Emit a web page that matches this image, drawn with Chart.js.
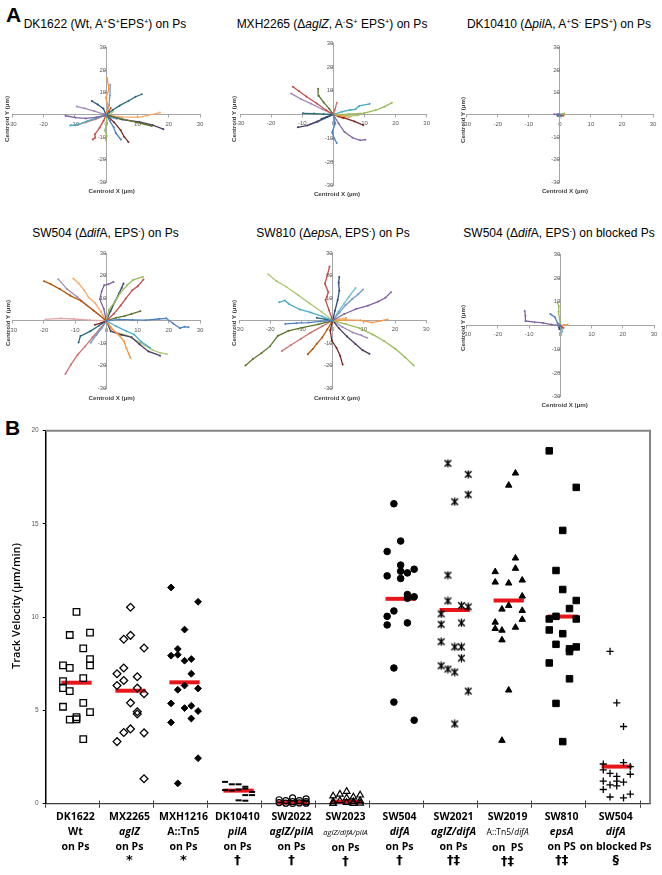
<!DOCTYPE html>
<html>
<head>
<meta charset="utf-8">
<script src="https://cdn.jsdelivr.net/npm/chart.js@4.4.1/dist/chart.umd.min.js"></script>
<style>
  html, body { margin: 0; padding: 0; background: #fff; overflow: hidden; }
  #fig { position: relative; width: 662px; height: 875px; overflow: hidden;
         font-family: "Liberation Sans", Arial, sans-serif; color: #000; }
  #fig canvas { position: absolute; }
  .txt { position: absolute; white-space: nowrap; transform: translate(-50%, -50%); }
  .panel { position: absolute; font-weight: bold; font-size: 21px; line-height: 21px; }
  .ttl { font-size: 12px; line-height: 14px; }
  .ttl sup { font-size: 7.5px; vertical-align: 4px; line-height: 0; }
  .axt { font-weight: bold; font-size: 6.2px; line-height: 7px; color: #404040; }
  .ytl { font-family: "Open Sans", sans-serif; font-weight: 600; font-size: 11px; line-height: 13px; }
  .cat { position: absolute; transform: translateX(-50%); text-align: center; white-space: nowrap;
         font-family: "Open Sans", sans-serif; font-weight: bold; font-size: 10.5px; line-height: 14.7px; }
  .cat .sm { font-size: 7.5px; font-weight: normal; }
  .cat .md { font-size: 8.5px; font-weight: normal; }
  .cat .mk { font-size: 13px; font-family: "DejaVu Sans", sans-serif; font-weight: bold; }
</style>
</head>
<body>
<div id="fig">
  <div class="panel" style="left:6px;top:4px;">A</div>
  <div class="panel" style="left:5px;top:417px;">B</div>
  <canvas id="a1"></canvas><canvas id="a2"></canvas><canvas id="a3"></canvas>
  <canvas id="a4"></canvas><canvas id="a5"></canvas><canvas id="a6"></canvas>
  <canvas id="b"></canvas>
</div>
<script>
// ---------------------------------------------------------------------------
// Panel A: cell tracks (centroid X, Y in µm), one list of [x, y] per track
// ---------------------------------------------------------------------------
const dk1622Tracks = [
  [[0, 0], [1.2, -2.8], [2.4, -5.5], [3.1, -8.2], [4.7, -11]],
  [[0, 0], [-0.8, -2.6], [-2.1, -5.8], [-3.6, -8.7], [-3.5, -10.2], [-4.3, -11]],
  [[0, 0], [0.3, -3.5], [-0.4, -6.9], [0.2, -9.4], [-0.1, -11.3]],
  [[0, 0], [-3.2, -1.1], [-6.5, -1.6], [-9.8, -1.2], [-13, -0.4]],
  [[0, 0], [-2.6, -1.2], [-5.9, -2.7], [-8.7, -4.2], [-11.5, -4.8]],
  [[0, 0], [0.6, 3.8], [-0.1, 7.6], [0.9, 11.5], [0.3, 16.5]],
  [[0, 0], [-0.9, 2.8], [-2.7, 4.6], [-4.6, 6.2]],
  [[0, 0], [2.6, -3.4], [4.6, -6.8], [5.8, -9.9], [7.1, -12.1]],
  [[0, 0], [4.4, -1.6], [9.8, -3.4], [12.3, -4.2], [14.6, -5]],
  [[0, 0], [5.2, -2.1], [10.6, -3.2], [14.9, -4.6], [18.3, -6.4]],
  [[0, 0], [2.1, 2.2], [4.3, 4.1], [7.2, 6.3], [9.4, 8.1], [11.4, 9.2]],
  [[0, 0], [0.8, 1.6], [1.5, 3.1]],
  [[0, 0], [0.9, 4.2], [1.2, 8.8], [1.3, 13.4]],
  [[0, 0], [-3.3, -1.9], [-6.6, -3.4], [-9.8, -4.6]],
  [[0, 0], [1.4, 0.6], [2.2, 1.5]],
  [[0, 0], [-3.8, 1.7], [-6.9, 2.9], [-9.4, 3.7]],
  [[0, 0], [1.6, -1.3], [3.4, -1.9]],
  [[0, 0], [5.1, -0.9], [10.2, -1.1], [13.4, -0.2], [17.2, 1]],
];

const mxh2265Tracks = [
  [[0, 0], [0.6, -3.8], [-0.4, -7.6], [0.3, -10.1], [1.1, -12]],
  [[0, 0], [-2.4, 1.9], [-5.3, 4.6], [-8.7, 7.6], [-11, 9.8], [-13, 11.7]],
  [[0, 0], [4.8, 0.2], [9.9, 0.6], [13.6, 1.8], [16.4, 3.3], [18.8, 4.9]],
  [[0, 0], [1.7, -3.8], [3.6, -7.4], [6.2, -9.8], [8.6, -10.9], [10.3, -10.6]],
  [[0, 0], [2.8, 1.2], [5.4, 1.9], [7.1, 2.2], [8.3, 3.6], [11.7, 4.5]],
  [[0, 0], [2.6, -0.6], [5.1, -1.2]],
  [[0, 0], [-1.9, -0.9], [-3.8, -1.8]],
  [[0, 0], [3.4, -1.4], [6.8, -2.9], [9.6, -4.5]],
  [[0, 0], [-1.3, 2.4], [-3.1, 5.1], [-4.7, 7.9], [-4.9, 10.8]],
  [[0, 0], [-2.2, -1.1], [-5.1, -2.9], [-8.3, -4.6], [-11.4, -5.4]],
  [[0, 0], [-3.1, 0.2], [-6.2, 0.4], [-9.8, 0.5]],
  [[0, 0], [1.6, -0.8], [3.1, -1.5]],
  [[0, 0], [-2.7, -1.6], [-5.4, -3.3], [-7.6, -4.2]],
  [[0, 0], [0.5, 2.1], [1.1, 4.9]],
  [[0, 0], [3.1, -0.3], [5.8, -0.6], [8.1, -0.4]],
  [[0, 0], [-3.6, 2.2], [-7.2, 4.6], [-10.4, 6.5], [-13.6, 8.9]],
];

const dk10410Tracks = [
  [[0, 0], [-0.3, 0.1], [-0.6, 0.2]],
  [[0, 0], [0.6, -0.3], [1.2, -0.4]],
  [[0, 0], [0.7, 0.3], [1.4, 0.6]],
  [[0, 0], [-0.9, 0.2], [-1.8, 0.3]],
  [[0, 0], [0.2, -0.3], [0.3, -0.6]],
  [[0, 0], [0.4, 0.1], [0.8, 0.2]],
  [[0, 0], [-0.4, -0.2], [-0.7, -0.3]],
];

const sw504Tracks = [
  [[0, 0], [4.1, 0.6], [8.4, 0.4], [12.6, 0.3], [16.8, 0.8], [19.2, 1.1], [21.4, -1.2], [23.6, -3.3], [25.1, -2.6], [26.3, -2.9]],
  [[0, 0], [2.4, 3.1], [4.6, 6.8], [6.2, 9.9], [8.3, 13.6], [10.1, 15.4], [11.9, 18.4]],
  [[0, 0], [0.8, 4.9], [2.6, 8.1], [4.4, 12.3], [6.7, 15.9], [8.6, 18.2], [11.7, 19.5]],
  [[0, 0], [-0.8, 5.3], [-2.1, 9.6], [-1.5, 13.1], [-0.7, 15.8], [0.6, 16.2], [2.3, 17.3]],
  [[0, 0], [3.1, -2.4], [6.4, -4.6], [8.9, -6.1], [11.2, -9.3], [14, -12]],
  [[0, 0], [1.6, -3.4], [3.8, -6.1], [5.6, -8.9], [6.4, -12.1], [7.2, -14.8], [7.7, -16.4]],
  [[0, 0], [1.3, 4.2], [2.8, 8.6], [4.1, 12.3], [4.9, 14.6], [5.5, 16.6]],
  [[0, 0], [-1.6, -0.9], [-3.7, -1.8]],
  [[0, 0], [3.2, 1.4], [5.8, 2.1], [8.1, 3.1], [10.9, 4.3]],
  [[0, 0], [1.4, -4.6], [4.8, -6.2], [8.1, -7.3], [10.6, -10.4], [13.5, -13.6], [17.2, -15.5]],
  [[0, 0], [-2.3, -2.1], [-5.1, -4.6], [-8.3, -6.8], [-8.9, -9.6]],
  [[0, 0], [-4.1, 4.6], [-8.2, 8.9], [-11.6, 11.2], [-14.9, 14.1], [-17.8, 16.3], [-20, 17.6]],
  [[0, 0], [-1.4, -3.1], [-3.3, -6.4], [-5, -9.8]],
  [[0, 0], [-2.1, -3.6], [-4.4, -7.3], [-6.8, -11.4], [-9.2, -15.1], [-11.3, -19.4], [-13.1, -23.6]],
  [[0, 0], [2.7, -4.9], [6.8, -6.6], [10.9, -9.8], [14.7, -12.9], [17.2, -14.2], [19.4, -14.8]],
  [[0, 0], [-3.2, 3.6], [-6.4, 7.1], [-9.3, 10.6], [-12.6, 14.1], [-15.4, 18.5]],
  [[0, 0], [-1.3, -2.7], [-3.1, -6.2]],
  [[0, 0], [-1.8, 4.1], [-3.6, 7.9], [-5.7, 10.4], [-7.1, 13.6], [-8.9, 16.7], [-10.6, 18.8]],
  [[0, 0], [-5.2, 0.3], [-10.4, 0.8], [-14.6, 1.1], [-19.5, 0.6]],
];

const sw810Tracks = [
  [[0, 0], [-3.9, -0.4], [-7.8, -0.9], [-11.6, -1.2], [-15.2, -1.5]],
  [[0, 0], [-1.2, 4.6], [-2.3, 9.1], [-1.4, 12.6], [-2.5, 16.4], [-1.7, 20.3], [-1, 24]],
  [[0, 0], [4.2, -1.6], [8.6, -3.4], [12.8, -6.2], [16.5, -9.1], [20.1, -12.6], [23.3, -16.4], [26, -20]],
  [[0, 0], [3.7, 2.9], [7.6, 5.2], [11.3, 6.6], [14.6, 8.4], [16.9, 10.1], [18.7, 12.6]],
  [[0, 0], [-3.4, 1.8], [-7.1, 3.6], [-10.6, 4.9], [-14.1, 7.4], [-15.3, 8.9], [-17.2, 8.1]],
  [[0, 0], [4.2, 0.3], [8.9, 0.1], [12.7, -0.9], [15.3, -0.2], [17.6, 0.5]],
  [[0, 0], [0.7, 4.3], [1.6, 9.1], [2.1, 13.2], [1.9, 16.8], [2.1, 19.3]],
  [[0, 0], [-0.8, -4.4], [-0.3, -8.9], [1.2, -12.1], [2.4, -15.7], [3.2, -19.6]],
  [[0, 0], [-4.6, -1.7], [-9.8, -3.2], [-14.2, -4.6], [-17.6, -6.8], [-20.1, -11.4], [-22.9, -14.6], [-25.6, -17.1], [-28, -20]],
  [[0, 0], [2.1, -3.6], [4.6, -7.1], [7.3, -10.4], [9.6, -13.2], [11.8, -14.8]],
  [[0, 0], [-2.6, 0.6], [-5.1, 1.2]],
  [[0, 0], [-1.7, -3.9], [-3.4, -7.6], [-5.1, -10.3], [-6.4, -12.7], [-8, -15]],
  [[0, 0], [2.2, 3.6], [4.1, 6.8], [6.3, 9.6], [8.2, 11.7], [9.7, 13.8]],
  [[0, 0], [-3.4, -2.6], [-7.1, -5.4], [-10.2, -8.1], [-13.4, -10.9], [-16.3, -13.5]],
  [[0, 0], [-3.6, 3.9], [-7.4, 7.6], [-11.2, 11.4], [-14.8, 14.9], [-18.1, 17.6], [-20.7, 20.6]],
  [[0, 0], [3.1, -2.9], [6.4, -5.3], [9.2, -6.6], [11, -7.7]],
  [[0, 0], [1.8, 3.9], [3.6, 7.4], [5.2, 10.6], [7.3, 14.4]],
  [[0, 0], [2.1, 0.6], [4.3, 1.1]],
];

const sw504BlockedTracks = [
  [[0, 0], [-0.9, 1.1], [-1.8, 3.6], [-3.2, 4.8]],
  [[0, 0], [0.5, -0.6], [1, -1.1]],
  [[0, 0], [-0.2, 2.4], [-0.6, 5.8], [-0.5, 8.1], [-0.9, 9.6]],
  [[0, 0], [-2.8, 0.4], [-5.6, 1.1], [-8.2, 1.4], [-11.1, 1.9], [-11.2, 4.1], [-11.4, 6.1]],
  [[0, 0], [0.4, -1.3], [0.6, -2.6]],
  [[0, 0], [1.2, 0.2], [2.3, 0.4]],
  [[0, 0], [-0.4, -0.8], [-0.3, -1.6]],
];

const trackAxisTicks = [-30, -20, -10, 0, 10, 20, 30];

// ---------------------------------------------------------------------------
// Panel B: track velocity (µm/min), values grouped by jitter column
// ---------------------------------------------------------------------------
const strains = ["DK1622", "MX2265", "MXH1216", "DK10410", "SW2022", "SW2023",
                 "SW504", "SW2021", "SW2019", "SW810", "SW504"];
const genotypes = ["Wt", "<i>aglZ</i>", "A::Tn5", "<i>pilA</i>", "<i>aglZ/pilA</i>",
                   '<i class="sm">aglZ/difA/pilA</i>', "<i>difA</i>", "<i>aglZ/difA</i>",
                   '<span class="md">A::Tn5/<i>difA</i></span>', "<i>epsA</i>", "<i>difA</i>"];
const surfaces = ["on Ps", "on Ps", "on Ps", "on Ps", "on Ps", "on Ps", "on Ps", "on Ps",
                  "on&nbsp; PS", "on PS", "on blocked Ps"];
const significance = ["&nbsp;", "*", "*", "†", "†", "†", "†", "†‡", "†‡", "†‡", "§"];

const dk1622 = [[7.41, 6.57, 6.19, 5.19], [9.04, 7.28, 6.03, 4.5], [10.28, 4.63, 4.52],
                [8.32, 6.73, 5.4, 3.45], [9.17, 7.75, 7.41, 4.9]];
const mx2265 = [[6.96, 6.33, 3.32], [8.81, 7.27, 6.6, 3.81], [10.53, 9.02, 5.4, 4.0],
                [6.8, 6.19, 4.92, 4.8], [8.34, 5.89, 3.79, 1.33]];
const mxh1216 = [[11.59, 7.93, 5.37, 4.35], [8.29, 7.98, 6.1, 1.08], [9.33, 7.66, 6.33, 5.12],
                 [7.75, 6.96, 5.24, 4.56], [10.82, 6.17, 4.96, 2.43]];
const dk10410 = [[1.16, 0.72], [1.03, 0.7], [1.03, 0.75, 0.17], [0.9, 0.8, 0.45, 0.15], [0.62, 0.45]];
const sw2022 = [[0.2, 0.05], [0.15, 0.02], [0.3, 0.1, 0.0], [0.15, 0.03], [0.25, 0.1, 0.02]];
const sw2023 = [[0.4, 0.1, 0.0], [0.5, 0.15], [0.65, 0.3, 0.05], [0.35, 0.1, 0.0], [0.45, 0.15, 0.02]];
const sw504 = [[13.52, 12.21, 10.04, 9.58], [16.08, 10.33, 7.27, 5.44], [14.08, 12.79, 12.46, 12.07],
               [12.37, 11.21, 11.01, 9.69], [12.57, 11.09, 4.47]];
const sw2021 = [[10.17, 9.61, 8.68, 7.39], [18.25, 12.25, 10.87, 7.21], [16.19, 8.4, 7.05, 4.27],
                [10.62, 9.69, 8.4, 7.8], [17.66, 16.57, 10.55, 6.03]];
const sw2019 = [[12.43, 11.87, 9.72, 9.38], [10.42, 9.29, 8.77, 3.38], [17.07, 11.82, 10.62, 6.08],
                [17.72, 13.16, 12.61, 9.45], [11.98, 11.12, 10.35, 9.87]];
const sw810 = [[18.92, 9.9, 9.31, 7.54], [12.5, 10.04, 8.54, 5.37], [14.65, 11.48, 9.11, 3.32],
               [10.46, 8.3, 8.15, 6.69], [16.96, 10.89, 9.9, 8.4]];
const sw504Blocked = [[2.12, 1.8, 1.2, 0.75], [8.16, 1.62, 1.0, 0.35], [5.4, 1.45, 1.2, 0.95],
                      [4.13, 2.19, 1.15, 0.3], [1.98, 1.57, 0.5]];
const medians = [6.48, 6.05, 6.5, 0.69, 0.05, 0.1, 10.98, 10.38, 10.89, 10.03, 1.98];
const velocityTicks = [0, 5, 10, 15, 20];

// ---------------------------------------------------------------------------
// Styles and layout
// ---------------------------------------------------------------------------
const PALETTE = ["#4F81BD", "#C0504D", "#9BBB59", "#8064A2", "#4BACC6", "#F79646",
                 "#2C4D75", "#772C2A", "#5F7530", "#4D3B62", "#276A7C", "#B65708",
                 "#729ACA", "#CD7371", "#AFC97A", "#A18BB7", "#6FBDD1", "#F9AB6B", "#E6A5A4"];
const AXIS_GRAY = "#a6a6a6";
const TICK_GRAY = "#595959";
const MEDIAN_RED = "#e8161b";

Chart.defaults.font.family = '"Liberation Sans", Arial, sans-serif';

const fig = document.getElementById("fig");

function putText(html, cx, cy, cls, rotate) {
  const d = document.createElement("div");
  d.className = "txt " + cls;
  d.innerHTML = html;
  d.style.left = cx + "px";
  d.style.top = cy + "px";
  if (rotate) d.style.transform = "translate(-50%, -50%) rotate(-90deg)";
  fig.appendChild(d);
}

// Size/position a canvas so the chart area lands on the given box.
function placeCanvas(id, area, pad) {
  const c = document.getElementById(id);
  const left = Math.floor(area.l - pad), top = Math.floor(area.t - pad);
  const right = Math.ceil(area.r + pad), bottom = Math.ceil(area.b + pad);
  c.width = right - left;
  c.height = bottom - top;
  c.style.left = left + "px";
  c.style.top = top + "px";
  return { canvas: c, padding: { left: area.l - left, top: area.t - top, right: right - area.r, bottom: bottom - area.b } };
}

const trackPanels = [
  { id: "a1", tracks: dk1622Tracks, area: { l: 12.3, r: 200, t: 47.7, b: 182 },
    title: "DK1622 (Wt, A<sup>+</sup>S<sup>+</sup>EPS<sup>+</sup>) on Ps", tc: [105, 24], yt: [6, 119], xt: [111.7, 190] },
  { id: "a2", tracks: mxh2265Tracks, area: { l: 240, r: 426.7, t: 43.3, b: 185.7 },
    title: "MXH2265 (Δ<i>aglZ</i>, A<sup>-</sup>S<sup>+</sup> EPS<sup>+</sup>) on Ps", tc: [332, 24], yt: [232.5, 119], xt: [337, 193] },
  { id: "a3", tracks: dk10410Tracks, area: { l: 466.7, r: 653, t: 47.7, b: 182 },
    title: "DK10410 (Δ<i>pil</i>A, A<sup>+</sup>S<sup>-</sup> EPS<sup>+</sup>) on Ps", tc: [559, 24], yt: [461.5, 120], xt: [565, 190] },
  { id: "a4", tracks: sw504Tracks, area: { l: 12.7, r: 200, t: 253.3, b: 388.3 },
    title: "SW504 (Δ<i>dif</i>A, EPS<sup>-</sup>) on Ps", tc: [105.5, 233], yt: [6.7, 323], xt: [111.7, 397.3] },
  { id: "a5", tracks: sw810Tracks, area: { l: 239.2, r: 426.2, t: 253, b: 388 },
    title: "SW810 (Δ<i>eps</i>A, EPS<sup>-</sup>) on Ps", tc: [333, 233], yt: [232.5, 323], xt: [337, 397.3] },
  { id: "a6", tracks: sw504BlockedTracks, area: { l: 466.7, r: 654, t: 254.3, b: 396.7 },
    title: "SW504 (Δ<i>dif</i>A, EPS<sup>-</sup>) on blocked Ps", tc: [559, 233], yt: [461.5, 327.5], xt: [564.7, 404] },
];

function centerAxis(pos) {
  return {
    type: "linear", min: -30, max: 30, position: pos,
    afterBuildTicks: (s) => { s.ticks = trackAxisTicks.map((v) => ({ value: v })); },
    ticks: { font: { size: 6 }, color: TICK_GRAY, padding: 3, maxRotation: 0, autoSkip: false },
    grid: { drawOnChartArea: false, tickLength: 2.5, color: AXIS_GRAY, lineWidth: 1 },
    border: { color: AXIS_GRAY, width: 1 },
  };
}

function trackChart(p) {
  const { canvas, padding } = placeCanvas(p.id, p.area, 12);
  new Chart(canvas, {
    type: "scatter",
    data: {
      datasets: p.tracks.map((t, i) => ({
        data: t.map(([x, y]) => ({ x, y })),
        showLine: true,
        borderColor: PALETTE[i % PALETTE.length],
        backgroundColor: PALETTE[i % PALETTE.length],
        borderWidth: 1.3,
        pointRadius: 1,
        pointBorderWidth: 0,
      })),
    },
    options: {
      responsive: false, animation: false, events: [],
      layout: { padding },
      plugins: { legend: { display: false }, tooltip: { enabled: false } },
      scales: { x: centerAxis({ y: 0 }), y: centerAxis({ x: 0 }) },
    },
  });
  putText(p.title, p.tc[0], p.tc[1], "ttl");
  putText("Centroid Y (µm)", p.yt[0], p.yt[1], "axt", true);
  putText("Centroid X (µm)", p.xt[0], p.xt[1], "axt");
}

trackPanels.forEach(trackChart);

// ---------------------------------------------------------------------------
// Panel B scatter
// ---------------------------------------------------------------------------
function starMarker() {
  // Excel-style "star": an X with a vertical bar through it
  const c = document.createElement("canvas");
  c.width = 9; c.height = 9;
  const g = c.getContext("2d");
  g.strokeStyle = "#000";
  g.lineWidth = 1.4;
  g.beginPath();
  g.moveTo(1.2, 1.2); g.lineTo(7.8, 7.8);
  g.moveTo(7.8, 1.2); g.lineTo(1.2, 7.8);
  g.moveTo(4.5, 0.5); g.lineTo(4.5, 8.5);
  g.stroke();
  return c;
}

const hollow = "rgba(0,0,0,0)";
const markerStyles = [
  { pointStyle: "rect", pointRadius: 4.6, backgroundColor: hollow, borderWidth: 1.3 },
  { pointStyle: "rectRot", pointRadius: 3.9, backgroundColor: hollow, borderWidth: 1.3 },
  { pointStyle: "rectRot", pointRadius: 3.4, backgroundColor: "#000", borderWidth: 1 },
  { pointStyle: "line", pointRadius: 3, backgroundColor: "#000", borderWidth: 2 },
  { pointStyle: "circle", pointRadius: 3, backgroundColor: hollow, borderWidth: 1.2 },
  { pointStyle: "triangle", pointRadius: 3.8, backgroundColor: hollow, borderWidth: 1.2 },
  { pointStyle: "circle", pointRadius: 3.3, backgroundColor: "#000", borderWidth: 1 },
  { pointStyle: starMarker(), pointRadius: 4, backgroundColor: "#000", borderWidth: 1 },
  { pointStyle: "triangle", pointRadius: 3.7, backgroundColor: "#000", borderWidth: 1 },
  { pointStyle: "rect", pointRadius: 4.6, backgroundColor: "#000", borderWidth: 1 },
  { pointStyle: "cross", pointRadius: 3.6, backgroundColor: "#000", borderWidth: 1.3 },
];

const groups = [dk1622, mx2265, mxh1216, dk10410, sw2022, sw2023, sw504, sw2021, sw2019, sw810, sw504Blocked];
const COL_START = 0.32, COL_STEP = 0.125;

const pointSets = groups.map((cols, g) => ({
  type: "scatter",
  data: cols.flatMap((vals, c) => vals.map((v) => ({ x: g + COL_START + COL_STEP * c, y: v }))),
  borderColor: "#000",
  clip: false,
  order: 0,
  ...markerStyles[g],
}));

const medianSets = medians.map((m, g) => ({
  type: "scatter",
  data: [{ x: g + 0.29, y: m }, { x: g + 0.85, y: m }],
  showLine: true,
  borderColor: MEDIAN_RED,
  borderWidth: 4,
  borderCapStyle: "butt",
  pointRadius: 0,
  clip: false,
  order: 10,
}));

const frame = {
  id: "frame",
  beforeDatasetsDraw(chart) {
    const { ctx, chartArea: a } = chart;
    ctx.save();
    ctx.strokeStyle = "#858585";
    ctx.lineWidth = 2;
    ctx.beginPath();
    ctx.moveTo(a.left, a.top);
    ctx.lineTo(a.right, a.top);
    ctx.lineTo(a.right, a.bottom);
    ctx.stroke();
    ctx.restore();
  },
};

// Panel B canvas sits at the page's left edge so scale pixels are page pixels
const B_TOP = 418;
const Y_AXIS_W = 38;
const bCanvas = document.getElementById("b");
bCanvas.width = 662;
bCanvas.height = 400;
bCanvas.style.left = "0px";
bCanvas.style.top = B_TOP + "px";
const bPad = { left: 45.7 - Y_AXIS_W, right: 662 - 650, top: 430.7 - B_TOP, bottom: B_TOP + 400 - 803.5 };
const xBoundaries = strains.map((_, i) => i).concat(strains.length);

const chartB = new Chart(bCanvas, {
  type: "scatter",
  data: { datasets: [...pointSets, ...medianSets] },
  options: {
    responsive: false, animation: false, events: [],
    layout: { padding: bPad },
    plugins: { legend: { display: false }, tooltip: { enabled: false } },
    scales: {
      x: {
        type: "linear", min: 0, max: 11.185, position: { y: 0 },
        afterBuildTicks: (s) => { s.ticks = xBoundaries.map((v) => ({ value: v })); },
        ticks: { display: false },
        grid: { drawOnChartArea: false, tickLength: 3.5, color: "#404040", lineWidth: 1 },
        border: { color: "#404040", width: 1.3 },
      },
      xUp: {
        type: "linear", axis: "x", min: 0, max: 11.185, position: { y: 0 },
        afterBuildTicks: (s) => { s.ticks = xBoundaries.map((v) => ({ value: v })); },
        ticks: { display: false },
        grid: { drawOnChartArea: false, tickLength: -3.5, color: "#404040", lineWidth: 1 },
        border: { display: false },
      },
      y: {
        type: "linear", min: 0, max: 20, position: "left",
        afterBuildTicks: (s) => { s.ticks = velocityTicks.map((v) => ({ value: v })); },
        afterFit: (s) => { s.width = Y_AXIS_W; },
        ticks: { font: { size: 6.5 }, color: TICK_GRAY, padding: 4 },
        grid: { drawOnChartArea: false, tickLength: 3, color: "#000", lineWidth: 1 },
        border: { color: "#000", width: 1.5 },
      },
    },
  },
  plugins: [frame],
});

putText("Track Velocity (μm/min)", 15, 606, "ytl", true);

// Category labels under the axis, centred on each strain's slot
const xs = chartB.scales.x;
strains.forEach((s, g) => {
  const d = document.createElement("div");
  d.className = "cat";
  d.style.left = xs.getPixelForValue(g + 0.55) + "px";
  d.style.top = "809.3px";
  d.innerHTML = `<div>${s}</div><div>${genotypes[g]}</div><div>${surfaces[g]}</div><div class="mk">${significance[g]}</div>`;
  fig.appendChild(d);
});
</script>
</body>
</html>
